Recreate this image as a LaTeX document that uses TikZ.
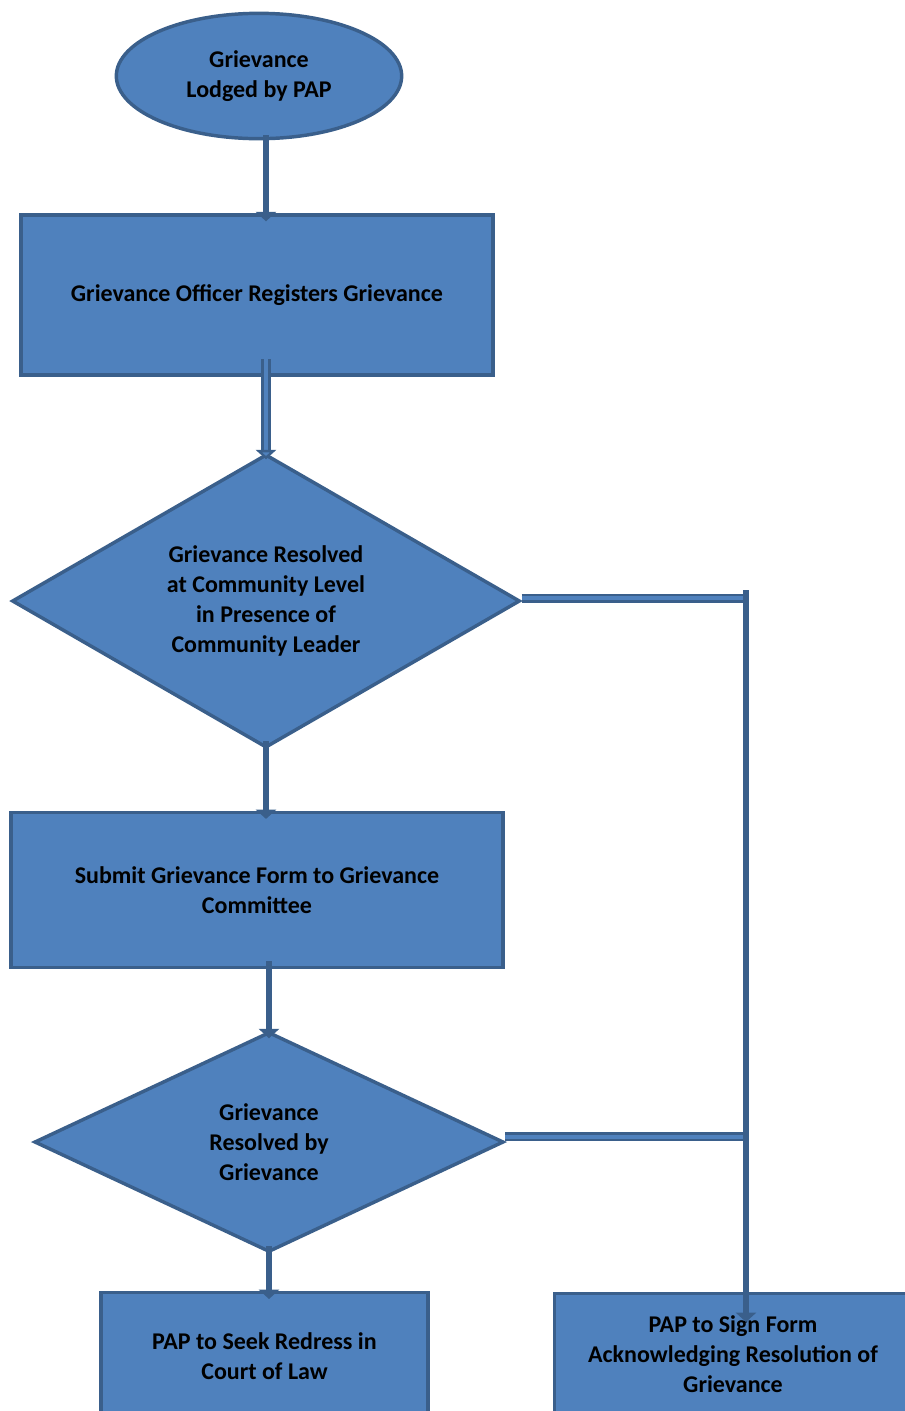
\documentclass[tikz,border=0pt]{standalone}
\usepackage{fontspec}
\setmainfont{Carlito}
\usepackage{tikz}
\usetikzlibrary{shapes.geometric}
\usetikzlibrary{arrows.meta}

\definecolor{boxfill}{HTML}{4F81BD}
\definecolor{boxline}{HTML}{3A5F8B}

\tikzset{
  flowbox/.style={draw=boxline, fill=boxfill, line width=2.6pt, align=center,
    font=\bfseries\fontsize{18}{22.5}\selectfont},
  arrowline/.style={draw=boxline, line width=5.2pt,
    -{Triangle[length=7pt,width=15pt]}},
  twinline/.style={draw=boxline, line width=2pt, double=boxfill, double distance=3.2pt}
}

\begin{document}
\begin{tikzpicture}[x=0.75pt, y=-0.75pt]
\useasboundingbox (0,0) rectangle (904,1411);

\node[flowbox, ellipse, minimum width=214pt, minimum height=94pt] (lodged) at (259,76) {Grievance\\Lodged by PAP};
\node[flowbox, rectangle, minimum width=354pt, minimum height=120pt] (register) at (257,295) {Grievance Officer Registers Grievance};
\node[flowbox, diamond, aspect=1.73, minimum width=381pt, minimum height=220pt, inner sep=0pt] (community) at (266,601) {Grievance Resolved\\at Community Level\\in Presence of\\Community Leader};
\node[flowbox, rectangle, minimum width=369pt, minimum height=116pt] (submit) at (257,890) {Submit Grievance Form to Grievance\\Committee};
\node[flowbox, diamond, aspect=2.1, minimum width=352pt, minimum height=165pt, inner sep=0pt] (committee) at (269,1142) {Grievance\\Resolved by\\Grievance};
\node[flowbox, rectangle, minimum width=245pt, minimum height=94.5pt, anchor=north] (court) at (264.5,1291) {PAP to Seek Redress in\\Court of Law};
\node[flowbox, rectangle, minimum width=268pt, minimum height=90pt, anchor=north] (sign) at (733,1292) {PAP to Sign Form\\Acknowledging Resolution of\\Grievance};

\coordinate (jtop) at (746,593);
\coordinate (jend) at (746,1322);

% main line
\draw[arrowline, shorten <=-4pt, shorten >=-6pt] (lodged.south -| community.north) -- (register.north -| community.north);
\draw[twinline, -{Triangle[length=7pt,width=15pt,fill=boxfill]}, shorten <=-13pt, shorten >=-5pt] (register.south -| community.north) -- (community.north);
\draw[arrowline, shorten <=-6pt, shorten >=-6pt] (community.south) -- (community.south |- submit.north);
\draw[arrowline, shorten <=-6pt, shorten >=-6pt] (submit.south -| committee.north) -- (committee.north);
\draw[arrowline, shorten <=-6pt, shorten >=-6pt] (committee.south) -- (committee.south |- court.north);

% resolved branch
\draw[twinline] ([yshift=2pt]community.east) -- ([yshift=2pt]community.east -| jtop);
\draw[twinline] ([yshift=4pt]committee.east) -- ([yshift=4pt]committee.east -| jtop);
\draw[arrowline, shorten <=-2pt] (jtop) -- (jend);
\end{tikzpicture}
\end{document}
